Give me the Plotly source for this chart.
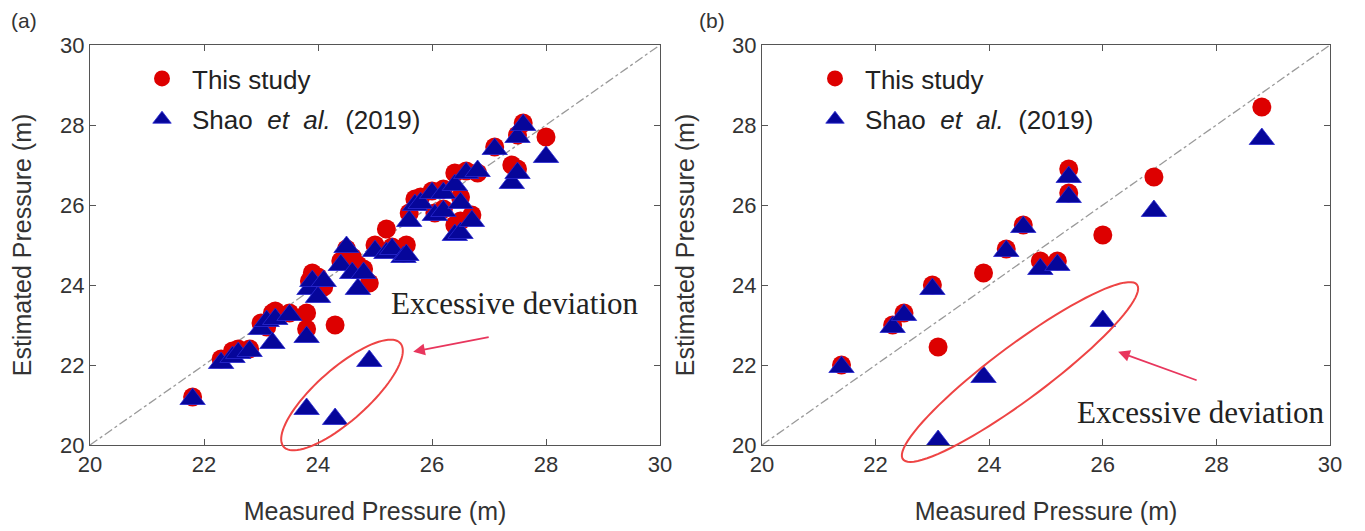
import numpy as np
import plotly.graph_objects as go

# ---------------- data ----------------
a_x = [21.8, 22.3, 22.5, 22.6, 22.8, 23.0, 23.1, 23.2, 23.25, 23.5, 23.8, 23.8, 23.85, 23.9, 24.0,
       24.1, 24.3, 24.4, 24.5, 24.6, 24.7, 24.8, 24.9, 25.0, 25.2, 25.3, 25.5, 25.55, 25.6, 25.7,
       25.8, 26.0, 26.05, 26.2, 26.2, 26.4, 26.4, 26.5, 26.5, 26.6, 26.7, 26.8, 27.1, 27.4, 27.5,
       27.5, 27.6, 28.0]
a_this = [21.2, 22.15, 22.35, 22.4, 22.4, 23.05, 22.95, 23.3, 23.35, 23.3, 23.3, 22.9, 24.1, 24.3, 24.2,
          23.95, 23.0, 24.6, 24.9, 24.7, 24.5, 24.4, 24.05, 25.0, 25.4, 24.95, 24.8, 25.0, 25.8, 26.15,
          26.2, 26.35, 25.8, 26.4, 25.9, 26.8, 25.5, 26.2, 25.6, 26.85, 25.75, 26.8, 27.45, 27.0, 27.75,
          26.9, 28.05, 27.7]
a_shao = [21.15, 22.05, 22.2, 22.3, 22.35, 22.9, 23.1, 22.55, 23.15, 23.25, 22.7, 20.9, 23.9, 24.1, 23.7,
          24.1, 20.65, 24.5, 24.95, 24.3, 23.9, 24.3, 22.1, 24.85, 24.8, 24.9, 24.7, 24.75, 25.6, 26.0,
          26.05, 26.3, 25.75, 26.3, 25.85, 26.5, 25.25, 26.05, 25.3, 26.8, 25.6, 26.85, 27.4, 26.55, 27.7,
          26.8, 28.0, 27.2]

b_x = [21.4, 22.3, 22.5, 23.0, 23.1, 23.9, 24.3, 24.6, 24.9, 25.2, 25.4, 25.4, 26.0, 26.9, 28.8]
b_this = [22.0, 23.0, 23.3, 24.0, 22.45, 24.3, 24.9, 25.5, 24.6, 24.6, 26.9, 26.3, 25.25, 26.7, 28.45]
b_shao = [21.95, 22.95, 23.25, 23.9, 20.1, 21.7, 24.85, 25.45, 24.4, 24.5, 26.7, 26.2, 23.1, 25.85, 27.65]

axis_range = [20, 30]
tick_vals = [20, 22, 24, 26, 28, 30]
legend_names = ["This study", "Shao  <i>et  al.</i>  (2019)"]
note_text = "Excessive deviation"

# ---------------- layout geometry (pixels, page coordinates) ----------------
OFF = 8                      # default page body margin
W, H = 1365 - OFF, 531 - OFF
ML, MT = 90 - OFF, 45 - OFF
MR = W - (1330 - OFF)
MB = H - (445 - OFF)
PW, PH = W - ML - MR, H - MT - MB
panel_a = (90, 660)
panel_b = (762, 1330)


def fx(px):
    return (px - OFF - ML) / PW


def fy(py):
    return (H - MB - (py - OFF)) / PH


RED = "#dd0000"
BLUE = "#06069a"
TXT = "#333333"
AX = "#555555"
ARROW = "#e8365d"
ELL = "#ee4444"
SANS = "Liberation Sans, Arial, sans-serif"
SERIF = "Liberation Serif, Times New Roman, serif"

fig = go.Figure()


def add_panel(xs, ys1, ys2, xa, ya, leg):
    fig.add_trace(go.Scatter(x=axis_range, y=axis_range, mode="lines", xaxis=xa, yaxis=ya,
                             line=dict(color="#9a9a9a", width=1.3, dash="dashdot"),
                             showlegend=False, hoverinfo="skip"))
    fig.add_trace(go.Scatter(x=xs, y=ys1, mode="markers", name=legend_names[0], xaxis=xa, yaxis=ya,
                             legend=leg, legendgroup="g1" + leg,
                             marker=dict(symbol="circle", size=19, color=RED,
                                         line=dict(width=0))))
    fig.add_trace(go.Scatter(x=xs, y=ys2, mode="markers", name=legend_names[1], xaxis=xa, yaxis=ya,
                             legend=leg, legendgroup="g2" + leg,
                             marker=dict(symbol="triangle-up", size=22, color=BLUE,
                                         line=dict(width=0.8, color="#2a2ad0"))))


add_panel(a_x, a_this, a_shao, "x", "y", "legend")
add_panel(b_x, b_this, b_shao, "x2", "y2", "legend2")


def axis_common(domain):
    return dict(domain=domain, range=axis_range, tickvals=tick_vals, ticks="inside", ticklen=6,
                tickcolor=AX, showline=True, linecolor=AX, linewidth=1, mirror="allticks",
                showgrid=False, zeroline=False, automargin=False,
                tickfont=dict(family=SANS, size=22, color=TXT))


title_font = dict(family=SANS, size=25, color=TXT)
ydom = [0, 1]
xa1 = axis_common([fx(panel_a[0]), fx(panel_a[1])])
xa1.update(anchor="y", title=dict(text="Measured Pressure (m)", font=title_font, standoff=26))
ya1 = axis_common(ydom)
ya1.update(anchor="x", title=dict(text="Estimated Pressure (m)", font=title_font, standoff=30))
xa2 = axis_common([fx(panel_b[0]), fx(panel_b[1])])
xa2.update(anchor="y2", title=dict(text="Measured Pressure (m)", font=title_font, standoff=26))
ya2 = axis_common(ydom)
ya2.update(anchor="x2", title=dict(text="Estimated Pressure (m)", font=title_font, standoff=30))


def ellipse_path(cx, cy, a, b, theta_deg, n=90):
    th = np.radians(theta_deg)
    t = np.linspace(0, 2 * np.pi, n)
    px = cx + a * np.cos(t) * np.cos(th) - b * np.sin(t) * np.sin(th)
    py = cy - (a * np.cos(t) * np.sin(th) + b * np.sin(t) * np.cos(th))
    pts = [f"{fx(x):.5f},{fy(y):.5f}" for x, y in zip(px, py)]
    return "M " + " L ".join(pts) + " Z"


shapes = [
    dict(type="path", xref="paper", yref="paper", path=ellipse_path(342, 395, 78, 26, 41.6),
         line=dict(color=ELL, width=2), fillcolor="rgba(0,0,0,0)"),
    dict(type="path", xref="paper", yref="paper", path=ellipse_path(1020, 372, 146, 27, 36.7),
         line=dict(color=ELL, width=2), fillcolor="rgba(0,0,0,0)"),
]

annotations = [
    dict(text="(a)", xref="paper", yref="paper", x=fx(9), y=fy(20), xanchor="left", yanchor="middle",
         showarrow=False, font=dict(family=SANS, size=21, color=TXT)),
    dict(text="(b)", xref="paper", yref="paper", x=fx(697), y=fy(20), xanchor="left", yanchor="middle",
         showarrow=False, font=dict(family=SANS, size=21, color=TXT)),
    dict(text=note_text, xref="x", yref="y", x=27.46, y=23.55, showarrow=False,
         font=dict(family=SERIF, size=31, color="#222222")),
    dict(text=note_text, xref="x2", yref="y2", x=27.72, y=20.82, showarrow=False,
         font=dict(family=SERIF, size=31, color="#222222")),
    dict(text="", xref="x", yref="y", x=25.67, y=22.33, ax=77, ay=-15, showarrow=True,
         arrowhead=2, arrowsize=1.3, arrowwidth=1.8, arrowcolor=ARROW),
    dict(text="", xref="x2", yref="y2", x=26.27, y=22.33, ax=80, ay=29, showarrow=True,
         arrowhead=2, arrowsize=1.3, arrowwidth=1.8, arrowcolor=ARROW),
]

leg_common = dict(bgcolor="rgba(0,0,0,0)", font=dict(family=SANS, size=26, color="#222222"),
                  xanchor="left", yanchor="top", tracegroupgap=4, itemsizing="trace",
                  itemwidth=50)

fig.update_layout(
    width=W, height=H, margin=dict(l=ML, r=MR, t=MT, b=MB, autoexpand=False),
    paper_bgcolor="white", plot_bgcolor="white",
    xaxis=xa1, yaxis=ya1, xaxis2=xa2, yaxis2=ya2,
    shapes=shapes, annotations=annotations,
    legend=dict(x=fx(132), y=fy(55), **leg_common),
    legend2=dict(x=fx(805), y=fy(55), **leg_common),
)

fig.write_html("out.html")
